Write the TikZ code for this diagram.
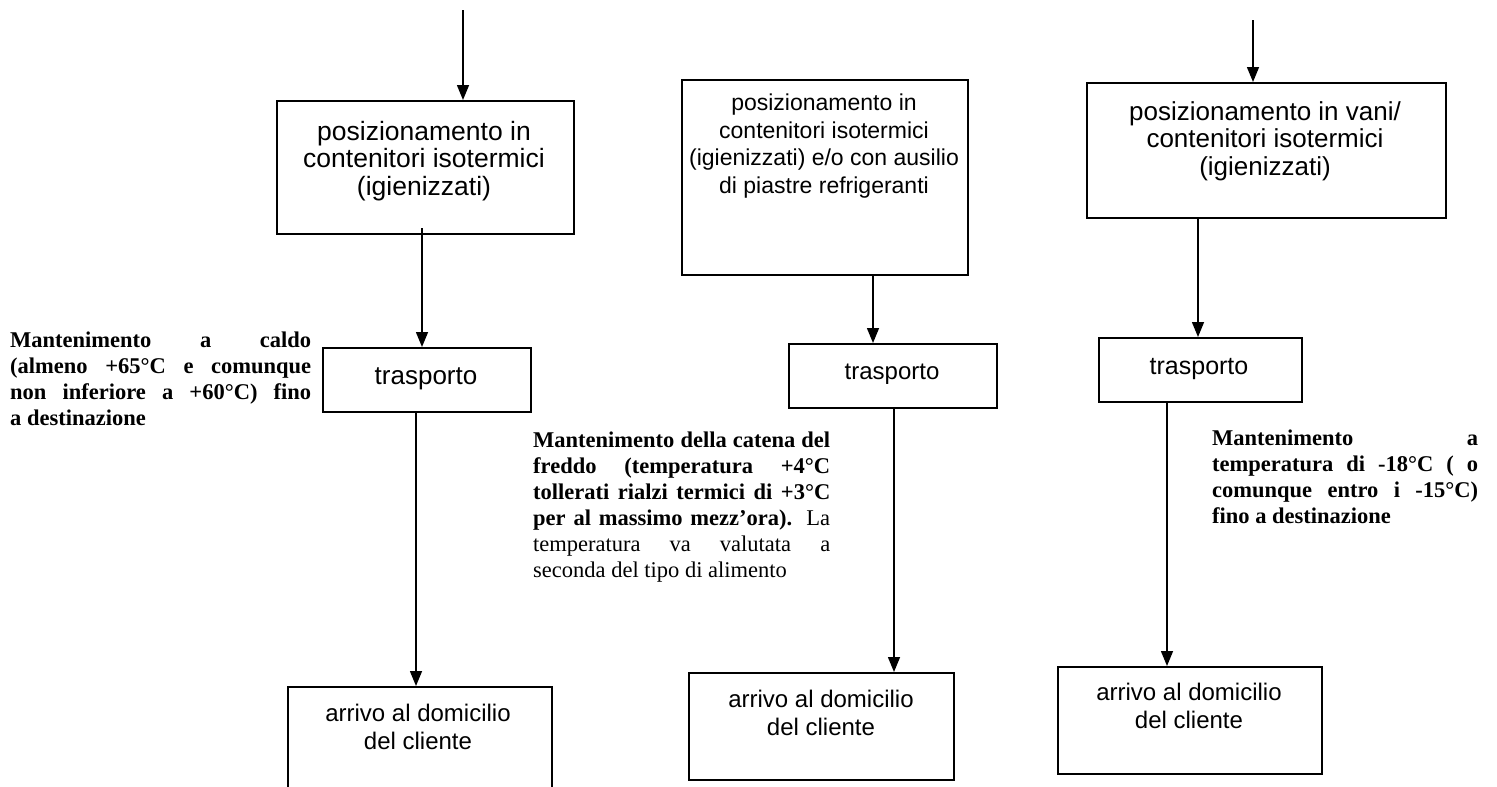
\documentclass[tikz,border=0pt]{standalone}
\usepackage{fontspec}
\setmainfont{Liberation Serif}
\newfontfamily\arialfont{Liberation Sans}
\usetikzlibrary{arrows.meta,calc}
\begin{document}
\begin{tikzpicture}[x=1pt,y=-1pt,
  box/.style={draw=black, line width=1.8pt, inner sep=0pt, anchor=north west},
  boxtxt/.style={font=\arialfont\fontsize{#1}{27.5}\selectfont, align=center, inner sep=0pt},
  boxtxt/.default=24,
  conn/.style={line width=1.5pt, -{Triangle[width=12pt,length=15pt]}},
  note/.style={font=\fontsize{22.5}{26}\selectfont, align=left, inner sep=0pt, anchor=north west}]
\useasboundingbox (0,0) rectangle (1497,787);
\clip (0,0) rectangle (1497,787);
\fill[white] (0,0) rectangle (1497,787);

% ---- left column
\node[box, minimum width=297pt, minimum height=133pt] (a1) at (276,100) {};
\node[boxtxt=26.5] (a1t) at (424,161) {posizionamento in\\contenitori isotermici\\(igienizzati)};
\node[box, minimum width=208pt, minimum height=64pt] (t1) at (322,347) {};
\node[boxtxt=26] (t1t) at (426,379) {trasporto};
\node[box, minimum width=264pt, minimum height=200pt] (b1) at (287,686) {};
\node[boxtxt] (b1t) at (418,727) {arrivo al domicilio\\del cliente};

% ---- middle column
\node[box, minimum width=286pt, minimum height=195pt] (a2) at (681,79) {};
\node[boxtxt=23] (a2t) at (824,146) {posizionamento in\\contenitori isotermici\\(igienizzati) e/o con ausilio\\di piastre refrigeranti};
\node[box, minimum width=208pt, minimum height=64pt] (t2) at (788,343) {};
\node[boxtxt] (t2t) at (892,374) {trasporto};
\node[box, minimum width=265pt, minimum height=107pt] (b2) at (688,672) {};
\node[boxtxt] (b2t) at (821,713) {arrivo al domicilio\\del cliente};

% ---- right column
\node[box, minimum width=359pt, minimum height=135pt] (a3) at (1086,82) {};
\node[boxtxt=26] (a3t) at (1265,141) {posizionamento in vani/\\contenitori isotermici\\(igienizzati)};
\node[box, minimum width=203pt, minimum height=64pt] (t3) at (1098,337) {};
\node[boxtxt=25] (t3t) at (1199,369) {trasporto};
\node[box, minimum width=264pt, minimum height=107pt] (b3) at (1057,666) {};
\node[boxtxt] (b3t) at (1189,706) {arrivo al domicilio\\del cliente};

% ---- connectors
\coordinate (s1) at (463,10);
\coordinate (c1) at (422,228);
\coordinate (c2) at (416,411);
\coordinate (c3) at (873,274);
\coordinate (c4) at (894,407);
\coordinate (s3) at (1253,20);
\coordinate (c5) at (1198,217);
\coordinate (c6) at (1167,401);
\draw[conn] (s1) -- (s1 |- a1.north);
\draw[conn] (c1) -- (c1 |- t1.north);
\draw[conn] (c2) -- (c2 |- b1.north);
\draw[conn] (c3) -- (c3 |- t2.north);
\draw[conn] (c4) -- (c4 |- b2.north);
\draw[conn] (s3) -- (s3 |- a3.north);
\draw[conn] (c5) -- (c5 |- t3.north);
\draw[conn] (c6) -- (c6 |- b3.north);

% ---- annotations
\node[note] (n1) at (10,332) {%
\makebox[301pt][s]{\bfseries Mantenimento a caldo}\\
\makebox[301pt][s]{\bfseries (almeno +65°C e comunque}\\
\makebox[301pt][s]{\bfseries non inferiore a +60°C) fino}\\
\textbf{a destinazione}};

\node[note] (n2) at (533,432) {%
\makebox[297pt][s]{\bfseries Mantenimento della catena del}\\
\makebox[297pt][s]{\bfseries freddo (temperatura +4°C}\\
\makebox[297pt][s]{\bfseries tollerati rialzi termici di +3°C}\\
\makebox[297pt][s]{\textbf{per al massimo mezz'ora).} La}\\
\makebox[297pt][s]{temperatura va valutata a}\\
seconda del tipo di alimento};

\node[note] (n3) at (1212,430) {%
\makebox[266pt][s]{\bfseries Mantenimento a}\\
\makebox[266pt][s]{\bfseries temperatura di -18°C ( o}\\
\makebox[266pt][s]{\bfseries comunque entro i -15°C)}\\
\textbf{fino a destinazione}};
\end{tikzpicture}
\end{document}
